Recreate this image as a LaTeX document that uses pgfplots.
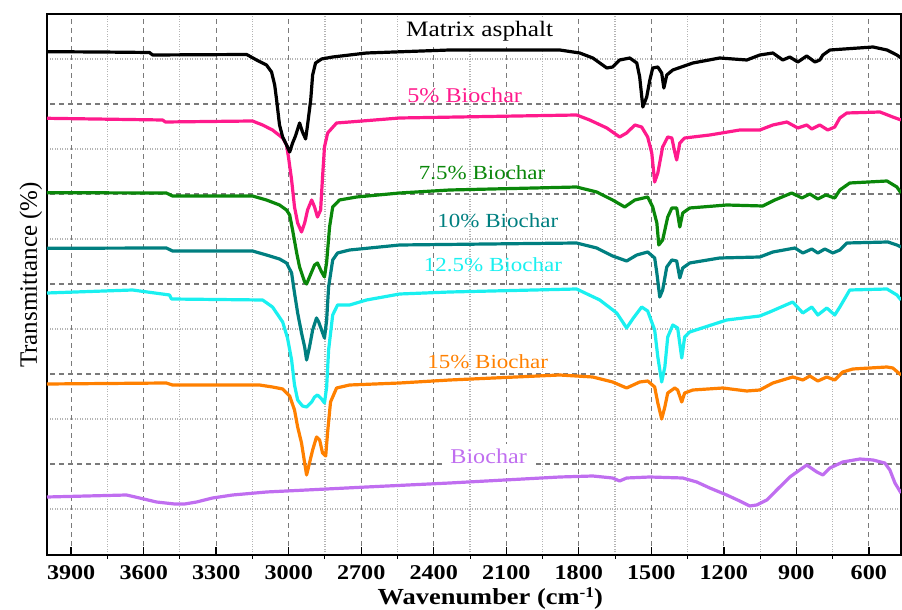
\documentclass[border=0pt]{standalone}
\usepackage{fontspec}
\usepackage{pgfplots}
\pgfplotsset{compat=1.18}
\setmainfont{Liberation Serif}
\newfontfamily\wide[FakeStretch=1.15]{Liberation Serif}
\definecolor{cPink}{HTML}{FF1A8C}
\definecolor{cGreen}{HTML}{0A870A}
\definecolor{cTeal}{HTML}{007F80}
\definecolor{cCyan}{HTML}{1AF0F0}
\definecolor{cOrange}{HTML}{FF8000}
\definecolor{cViolet}{HTML}{C06EF0}
\definecolor{gridD}{HTML}{7A7A7A}
\definecolor{gridL}{HTML}{B4B4B4}
\tikzset{lbl/.style={anchor=base, inner sep=0pt},
  lblw/.style={anchor=base, fill=white, inner sep=5pt},
  gmaj/.style={gridD, line width=1.3pt, dash pattern=on 5pt off 4pt},
  gmin/.style={gridL, line width=1.1pt, dash pattern=on 1pt off 1.5pt}}
\begin{document}
\begin{tikzpicture}
\path[use as bounding box] (-47pt,-55pt) rectangle (855pt,555pt);
\begin{axis}[
  at={(0,0)}, anchor=south west,
  scale only axis, width=854pt, height=541pt,
  x dir=reverse, xmin=467, xmax=4000, ymin=0, ymax=541,
  xtick={600,900,...,3900}, minor xtick={750,1050,...,3750},
  ytick={91,181,271,361,451}, minor ytick={46,136,226,316,406,496},
  yticklabels={},
  xmajorgrids=true, xminorgrids=true, ymajorgrids=true, yminorgrids=true,
  major grid style={gmaj}, minor grid style={gmin},
  axis line style={line width=1.4pt},
  tick style={black, line width=1.4pt}, major tick length=8pt, minor tick length=4pt,
  tick align=inside, xtick pos=left, ytick pos=left,
  minor x tick style={line width=1pt, yshift=-4pt},
  y tick style={draw=none},
  /pgf/number format/1000 sep={},
  /pgf/number format/assume math mode=true,
  xticklabel style={font=\wide\bfseries\fontsize{21}{21}\selectfont, anchor=base, yshift=-25pt, inner sep=0pt},
  xlabel={Wavenumber (cm\raisebox{7pt}{\fontsize{15}{15}\selectfont -1})},
  xlabel style={at={(axis description cs:0.519,-0.0906)}, anchor=base, inner sep=0pt, font=\wide\bfseries\fontsize{23}{23}\selectfont},
  ylabel={Transmittance (\%)},
  ylabel style={at={(axis description cs:-0.0117,0.5176)}, anchor=base, inner sep=0pt, font=\fontsize{25}{25}\selectfont},
  every axis plot/.append style={line width=3.2pt, line join=round, no markers}
]
% series labels
\node[lblw, font=\wide\fontsize{22}{22}\selectfont] at (axis cs:2210,518) {Matrix asphalt};
\node[lbl, text=cPink, font=\wide\fontsize{21}{21}\selectfont] at (axis cs:2272,452) {5\% Biochar};
\node[lbl, text=cGreen, font=\wide\fontsize{20}{20}\selectfont] at (axis cs:2200,375) {7.5\% Biochar};
\node[lbl, text=cTeal, font=\wide\fontsize{20}{20}\selectfont] at (axis cs:2135,327) {10\% Biochar};
\node[lbl, text=cCyan, font=\wide\fontsize{20}{20}\selectfont] at (axis cs:2155,283) {12.5\% Biochar};
\node[lbl, text=cOrange, font=\wide\fontsize{20}{20}\selectfont] at (axis cs:2177,186) {15\% Biochar};
\node[lblw, text=cViolet, font=\wide\fontsize{21}{21}\selectfont] at (axis cs:2173,91) {Biochar};

% Biochar
\addplot[cViolet] coordinates {
(4000,58)(3671,60)(3617,57)(3547,53)(3472,51)(3431,51)(3381,53)(3315,57)(3232,60)(3092,63)(2926,65)(2678,68)(2334,72)(1879,78)(1742,79)(1660,77)(1631,74)(1602,77)(1506,78)(1370,77)(1312,73)(1258,67)(1188,60)(1134,54)(1093,49)(1064,50)(1022,55)(981,65)(927,78)(857,90)(815,83)(790,80)(761,87)(708,93)(637,96)(583,95)(534,92)(513,85)(492,72)(467,62)
};
% 15%
\addplot[cOrange] coordinates {
(4000,171)(3506,172)(3481,170)(3121,170)(3067,168)(3025,166)(2996,159)(2976,145)(2963,128)(2947,112)(2934,92)(2926,80)(2914,92)(2901,105)(2885,118)(2872,115)(2860,102)(2847,99)(2839,123)(2827,153)(2802,167)(2748,170)(2541,172)(2334,175)(1879,180)(1742,178)(1660,173)(1602,167)(1548,173)(1515,174)(1486,168)(1473,152)(1457,136)(1444,148)(1432,162)(1403,167)(1391,165)(1374,153)(1362,162)(1328,165)(1204,167)(1105,164)(1051,165)(997,172)(915,178)(873,175)(844,179)(811,174)(774,178)(741,175)(708,183)(666,186)(525,188)(501,187)(467,180)
};
% 12.5%
\addplot[cCyan] coordinates {
(4000,262)(3646,265)(3493,260)(3485,256)(3108,255)(3067,248)(3025,233)(3005,217)(2988,195)(2976,170)(2963,155)(2943,149)(2926,148)(2905,153)(2893,158)(2881,160)(2864,156)(2852,152)(2843,168)(2835,205)(2818,240)(2798,250)(2748,250)(2678,255)(2541,261)(2334,263)(1809,266)(1713,255)(1643,242)(1602,227)(1577,236)(1540,248)(1515,244)(1486,225)(1473,198)(1457,173)(1444,188)(1432,218)(1411,230)(1391,227)(1374,197)(1362,218)(1341,223)(1188,235)(1051,239)(1010,243)(915,253)(873,242)(836,248)(811,240)(774,247)(741,240)(720,248)(679,265)(525,266)(484,260)(467,255)
};
% 10%
\addplot[cTeal] coordinates {
(4000,306.7)(3506,307)(3481,304)(3150,304)(3092,300)(3038,296)(3009,292)(2988,282)(2976,262)(2963,242)(2947,222)(2934,208)(2926,195)(2914,208)(2901,225)(2885,237)(2876,233)(2864,225)(2852,217)(2843,235)(2835,268)(2818,295)(2798,302)(2748,305)(2541,310)(1809,312)(1726,307)(1660,299)(1602,294)(1560,300)(1515,303)(1486,297)(1477,282)(1465,258)(1453,265)(1436,288)(1415,295)(1395,294)(1382,277)(1370,287)(1341,292)(1217,297)(1051,298)(997,303)(906,307)(873,302)(836,306)(811,302)(782,306)(749,302)(720,305)(691,312)(521,313)(484,310)(467,308)
};
% 7.5%
\addplot[cGreen] coordinates {
(4000,362.3)(3506,362)(3481,359)(3150,359)(3092,355)(3038,350)(3009,345)(2996,340)(2984,325)(2967,302)(2955,288)(2934,273)(2926,271)(2914,278)(2893,290)(2881,292)(2864,283)(2852,278)(2843,293)(2831,328)(2818,348)(2790,355)(2719,358)(2541,362)(2334,365)(1809,368)(1726,363)(1660,355)(1610,348)(1568,355)(1515,358)(1494,348)(1477,332)(1469,310)(1453,315)(1432,338)(1415,347)(1395,347)(1382,328)(1370,342)(1341,347)(1188,350)(1039,349)(989,355)(919,362)(877,357)(844,361)(811,356)(778,360)(741,357)(720,365)(679,372)(525,374)(484,368)(467,362)
};
% 5%
\addplot[cPink] coordinates {
(4000,436.7)(3522,435)(3510,433)(3150,434)(3108,430)(3067,425)(3025,417)(3009,410)(3001,398)(2988,375)(2976,348)(2963,332)(2947,323)(2934,332)(2922,345)(2905,355)(2893,348)(2881,338)(2868,345)(2860,378)(2852,408)(2839,422)(2802,432)(2748,433)(2541,437)(1809,440)(1755,435)(1684,427)(1631,418)(1602,422)(1568,430)(1540,428)(1515,418)(1498,402)(1486,373)(1473,382)(1453,408)(1432,418)(1415,417)(1403,403)(1395,395)(1382,412)(1362,417)(1258,420)(1134,425)(1051,425)(997,430)(939,433)(894,427)(857,430)(836,426)(803,430)(770,425)(741,428)(720,437)(691,442)(554,443)(501,438)(467,435)
};
% Matrix asphalt
\addplot[black] coordinates {
(4000,503.3)(3783,503)(3576,502.5)(3563,500)(3174,500.5)(3133,495)(3092,490)(3071,483)(3058,470)(3050,455)(3038,430)(3025,418)(3009,410)(2996,403)(2984,412)(2972,419)(2955,432)(2943,423)(2930,416)(2922,430)(2909,455)(2901,480)(2889,492)(2864,496)(2818,498)(2678,502)(2334,505)(1879,505)(1796,502)(1742,497)(1684,487)(1660,488)(1631,495)(1589,497)(1560,492)(1548,478)(1535,448)(1519,458)(1506,475)(1494,487)(1473,488)(1457,482)(1448,467)(1436,480)(1411,485)(1328,492)(1217,497)(1105,495)(1051,500)(997,502)(956,495)(927,498)(894,493)(857,499)(823,493)(803,495)(790,500)(761,505)(583,508)(525,505)(484,500)(467,497)
};
\end{axis}
\end{tikzpicture}
\end{document}
